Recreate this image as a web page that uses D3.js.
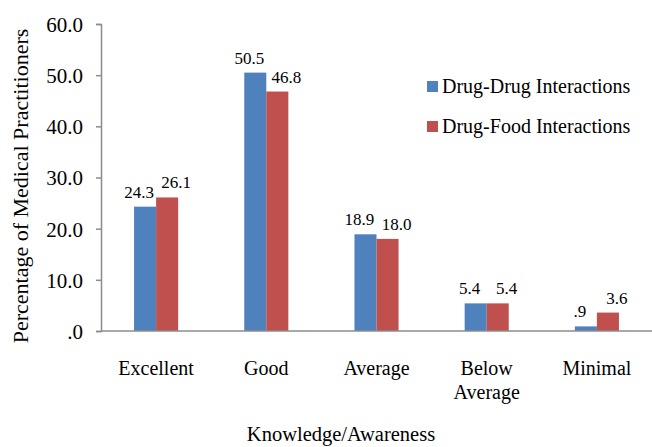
<!DOCTYPE html>
<html><head><meta charset="utf-8">
<script src="https://cdn.jsdelivr.net/npm/d3@7"></script>
<style>
html,body{margin:0;padding:0;background:#fff;}
svg{display:block;font-family:"Liberation Serif","Times New Roman",serif;}
</style></head>
<body>
<svg id="chart" width="652" height="447"></svg>
<script>
const categories = ["Excellent", "Good", "Average", "Below Average", "Minimal"];
const seriesNames = ["Drug-Drug Interactions", "Drug-Food Interactions"];
const drugDrug = [24.3, 50.5, 18.9, 5.4, 0.9];
const drugFood = [26.1, 46.8, 18.0, 5.4, 3.6];
const yTicks = [0, 10, 20, 30, 40, 50, 60];
const colors = ["#4F81BD", "#C0504D"];
const ink = "#000";

const svg = d3.select("#chart");
const mLeft = 101, mRight = 652, mTop = 24, mBottom = 331;

const x0 = d3.scaleBand().domain(categories).range([mLeft, mRight]).paddingInner(0.6).paddingOuter(0.3);
const x1 = d3.scaleBand().domain([0, 1]).range([0, x0.bandwidth()]);
const y = d3.scaleLinear().domain([0, 60]).range([mBottom, mTop]);

const fmt = v => { let s = v.toFixed(1); if (s.startsWith("0")) s = s.slice(1); return s; };

// y axis
const yAxis = svg.append("g").attr("transform", `translate(${mLeft},0)`)
  .call(d3.axisLeft(y).tickValues(yTicks).tickSize(5).tickPadding(13).tickFormat(fmt));
yAxis.select(".domain").attr("stroke", "#8c8c8c").attr("stroke-width", 1.5);
yAxis.selectAll(".tick line").attr("stroke", "#8c8c8c").attr("stroke-width", 1.5);
yAxis.selectAll(".tick text").attr("font-size", 21).attr("fill", ink)
  .attr("font-family", "Liberation Serif").attr("dy", "0.35em");

// bars
const data = categories.map((c, i) => ({cat: c, vals: [drugDrug[i], drugFood[i]]}));
const groups = svg.append("g").selectAll("g").data(data).join("g")
  .attr("transform", d => `translate(${x0(d.cat)},0)`);
groups.selectAll("rect").data(d => d.vals.map((v, k) => ({k, v}))).join("rect")
  .attr("x", d => x1(d.k)).attr("width", x1.bandwidth())
  .attr("y", d => y(d.v)).attr("height", d => y(0) - y(d.v))
  .attr("fill", d => colors[d.k]);
groups.selectAll("text").data(d => d.vals.map((v, k) => ({k, v}))).join("text")
  .attr("x", d => x1(d.k) + x1.bandwidth() / 2 + (d.k === 0 ? -6 : 9))
  .attr("y", d => y(d.v) - 9)
  .attr("text-anchor", "middle").attr("font-size", 17).attr("fill", ink)
  .text(d => fmt(d.v));

// x axis line
svg.append("line").attr("x1", mLeft).attr("x2", mRight).attr("y1", mBottom).attr("y2", mBottom)
  .attr("stroke", "#8c8c8c").attr("stroke-width", 1.5);

// category labels
const xl = svg.append("g").selectAll("text").data(categories).join("text")
  .attr("x", d => x0(d) + x0.bandwidth() / 2).attr("y", 375)
  .attr("text-anchor", "middle").attr("font-size", 20).attr("fill", ink);
xl.each(function(d) {
  const words = d === "Below Average" ? ["Below", "Average"] : [d];
  const t = d3.select(this);
  words.forEach((w, i) => t.append("tspan").attr("x", x0(d) + x0.bandwidth() / 2).attr("dy", i ? 24 : 0).text(w));
});

// axis titles
svg.append("text").attr("x", 341).attr("y", 441).attr("text-anchor", "middle")
  .attr("font-size", 20.5).attr("fill", ink).text("Knowledge/Awareness");
svg.append("text").attr("transform", "translate(28,186) rotate(-90)").attr("text-anchor", "middle")
  .attr("font-size", 22).attr("fill", ink).text("Percentage of Medical Practitioners");

// legend
const lg = svg.append("g").selectAll("g").data(seriesNames).join("g")
  .attr("transform", (d, i) => `translate(427,${81 + i * 40})`);
lg.append("rect").attr("width", 11).attr("height", 11).attr("fill", (d, i) => colors[i]);
lg.append("text").attr("x", 15).attr("y", 12).attr("font-size", 20).attr("fill", ink).text(d => d);
</script>
</body></html>
